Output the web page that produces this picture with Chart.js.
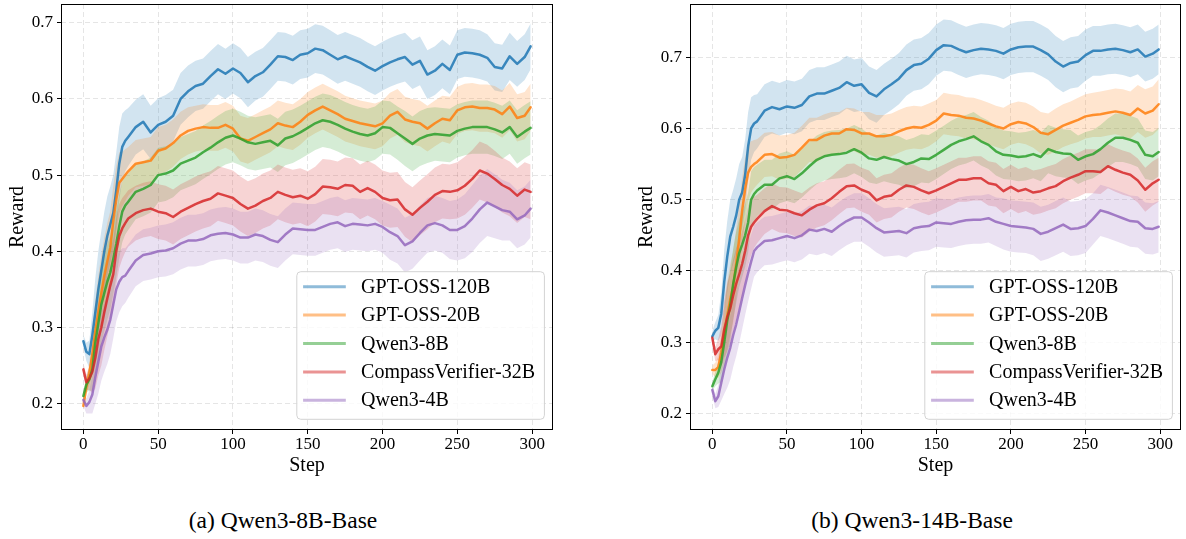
<!DOCTYPE html>
<html><head><meta charset="utf-8">
<script src="https://cdn.jsdelivr.net/npm/chart.js@4.4.1/dist/chart.umd.min.js"></script>
<style>
html,body{margin:0;padding:0;background:#fff;}
#wrap{position:relative;width:1186px;height:539px;overflow:hidden;background:#fff;}
canvas{position:absolute;top:0;}
.cap{position:absolute;font-family:'Liberation Serif','Times New Roman',serif;font-size:23.5px;line-height:1;white-space:nowrap;transform:translateX(-50%);color:#000;}
</style></head><body>
<div id="wrap">
<canvas id="c1" width="570" height="480" style="left:0px"></canvas>
<canvas id="c2" width="556" height="480" style="left:630px"></canvas>
<div class="cap" style="left:283px;top:509px">(a) Qwen3-8B-Base</div>
<div class="cap" style="left:912px;top:509px">(b) Qwen3-14B-Base</div>
</div>
<script>
// ---------- data ----------
const STEPS = [0,2,4,6,8,10,12,14,16,18,20,22,24,26,28,30,35,40,45,50,55,60,65,70,75,80,85,90,95,100,105,110,115,120,125,130,135,140,145,150,155,160,165,170,175,180,185,190,195,200,205,210,215,220,225,230,235,240,245,250,255,260,265,270,275,280,285,290,295,299];
const X_TICKS = [0,50,100,150,200,250,300];
const Y_TICKS_A = [0.2,0.3,0.4,0.5,0.6,0.7];
const Y_TICKS_B = [0.2,0.3,0.4,0.5,0.6,0.7];
const SERIES_NAMES = ['GPT-OSS-120B','GPT-OSS-20B','Qwen3-8B','CompassVerifier-32B','Qwen3-4B'];
const SERIES_RGB = ['31,119,180','255,127,14','44,160,44','214,39,40','148,103,189'];

// (a) Qwen3-8B-Base : mean reward
const A_GPT120 = [0.282,0.268,0.265,0.290,0.320,0.350,0.375,0.400,0.420,0.435,0.450,0.480,0.515,0.537,0.545,0.550,0.563,0.570,0.556,0.566,0.570,0.578,0.600,0.610,0.617,0.620,0.630,0.639,0.633,0.640,0.634,0.622,0.630,0.635,0.645,0.656,0.655,0.651,0.658,0.660,0.666,0.664,0.658,0.652,0.656,0.652,0.648,0.642,0.637,0.643,0.648,0.652,0.655,0.645,0.650,0.632,0.637,0.646,0.638,0.658,0.661,0.660,0.658,0.654,0.642,0.640,0.656,0.646,0.655,0.669];
const A_GPT20 = [0.197,0.222,0.240,0.265,0.295,0.320,0.345,0.368,0.387,0.405,0.440,0.468,0.490,0.495,0.500,0.505,0.515,0.517,0.519,0.532,0.535,0.542,0.552,0.558,0.561,0.563,0.562,0.562,0.566,0.561,0.548,0.545,0.550,0.555,0.560,0.568,0.565,0.563,0.570,0.579,0.585,0.590,0.585,0.580,0.574,0.571,0.568,0.566,0.564,0.568,0.578,0.583,0.573,0.570,0.568,0.561,0.568,0.574,0.572,0.585,0.589,0.590,0.588,0.588,0.586,0.580,0.590,0.575,0.578,0.589];
const A_Q8 = [0.210,0.225,0.232,0.245,0.280,0.305,0.330,0.345,0.360,0.372,0.390,0.410,0.433,0.452,0.460,0.465,0.478,0.482,0.487,0.500,0.502,0.506,0.515,0.519,0.523,0.530,0.536,0.543,0.549,0.552,0.548,0.543,0.541,0.543,0.545,0.539,0.548,0.551,0.556,0.562,0.568,0.572,0.570,0.566,0.561,0.557,0.554,0.552,0.555,0.563,0.562,0.555,0.548,0.541,0.548,0.552,0.554,0.553,0.552,0.558,0.561,0.563,0.563,0.563,0.560,0.556,0.563,0.550,0.557,0.562];
const A_CV32 = [0.245,0.228,0.233,0.242,0.260,0.285,0.300,0.320,0.338,0.355,0.370,0.400,0.420,0.430,0.437,0.443,0.450,0.454,0.456,0.452,0.450,0.445,0.452,0.457,0.462,0.466,0.469,0.476,0.473,0.470,0.462,0.456,0.460,0.466,0.470,0.478,0.474,0.471,0.473,0.469,0.475,0.485,0.484,0.482,0.487,0.486,0.478,0.483,0.478,0.470,0.467,0.468,0.455,0.448,0.457,0.465,0.474,0.479,0.478,0.480,0.486,0.495,0.506,0.502,0.495,0.487,0.482,0.473,0.481,0.478];
const A_Q4 = [0.205,0.197,0.202,0.212,0.235,0.255,0.275,0.287,0.297,0.310,0.330,0.350,0.360,0.366,0.368,0.374,0.388,0.395,0.397,0.400,0.401,0.404,0.410,0.414,0.414,0.416,0.421,0.423,0.424,0.422,0.418,0.418,0.422,0.420,0.415,0.412,0.422,0.430,0.429,0.428,0.428,0.432,0.436,0.438,0.433,0.436,0.435,0.434,0.436,0.432,0.425,0.420,0.408,0.413,0.424,0.434,0.437,0.434,0.428,0.428,0.433,0.443,0.455,0.464,0.459,0.454,0.452,0.442,0.447,0.456];

// (a) half-width of shaded band
const A_GPT120_SD = [0.008,0.012,0.018,0.030,0.045,0.050,0.052,0.052,0.052,0.050,0.050,0.050,0.048,0.044,0.040,0.038,0.036,0.036,0.035,0.035,0.035,0.034,0.034,0.034,0.033,0.033,0.033,0.033,0.033,0.033,0.033,0.033,0.032,0.032,0.032,0.032,0.032,0.032,0.032,0.032,0.032,0.032,0.032,0.032,0.032,0.032,0.032,0.032,0.032,0.032,0.032,0.032,0.032,0.032,0.032,0.032,0.032,0.032,0.032,0.032,0.032,0.032,0.032,0.031,0.031,0.031,0.031,0.030,0.030,0.030];
const A_GPT20_SD = [0.006,0.010,0.015,0.028,0.040,0.048,0.050,0.050,0.050,0.048,0.046,0.044,0.040,0.036,0.034,0.032,0.031,0.031,0.031,0.031,0.031,0.031,0.031,0.031,0.030,0.030,0.030,0.030,0.030,0.030,0.030,0.030,0.030,0.030,0.030,0.030,0.030,0.030,0.030,0.030,0.030,0.030,0.030,0.030,0.030,0.030,0.030,0.030,0.030,0.030,0.030,0.030,0.030,0.030,0.030,0.030,0.030,0.030,0.031,0.031,0.031,0.031,0.031,0.031,0.031,0.031,0.031,0.031,0.031,0.031];
const A_Q8_SD = [0.006,0.010,0.015,0.028,0.040,0.048,0.050,0.050,0.050,0.048,0.046,0.044,0.042,0.040,0.038,0.037,0.036,0.036,0.036,0.036,0.036,0.035,0.035,0.035,0.035,0.035,0.035,0.035,0.035,0.035,0.035,0.035,0.035,0.035,0.035,0.035,0.035,0.035,0.035,0.035,0.035,0.035,0.035,0.035,0.035,0.035,0.035,0.035,0.035,0.035,0.035,0.035,0.036,0.036,0.036,0.036,0.035,0.035,0.035,0.035,0.035,0.035,0.035,0.035,0.035,0.035,0.035,0.035,0.035,0.035];
const A_CV32_SD = [0.008,0.010,0.015,0.028,0.040,0.048,0.050,0.050,0.050,0.048,0.046,0.044,0.042,0.040,0.038,0.037,0.036,0.036,0.036,0.036,0.036,0.036,0.036,0.036,0.036,0.036,0.036,0.036,0.036,0.036,0.036,0.036,0.036,0.036,0.036,0.036,0.036,0.036,0.036,0.036,0.036,0.036,0.036,0.036,0.036,0.036,0.036,0.036,0.036,0.036,0.036,0.036,0.036,0.036,0.036,0.036,0.036,0.036,0.036,0.037,0.038,0.038,0.038,0.038,0.037,0.036,0.036,0.036,0.036,0.036];
const A_Q4_SD = [0.008,0.010,0.015,0.025,0.035,0.042,0.045,0.045,0.045,0.045,0.044,0.042,0.040,0.038,0.036,0.035,0.034,0.034,0.034,0.034,0.034,0.034,0.034,0.034,0.034,0.034,0.034,0.034,0.034,0.034,0.034,0.034,0.034,0.034,0.034,0.034,0.034,0.034,0.034,0.034,0.034,0.034,0.034,0.034,0.034,0.034,0.034,0.034,0.034,0.034,0.036,0.036,0.036,0.036,0.036,0.036,0.036,0.036,0.038,0.040,0.042,0.044,0.044,0.044,0.042,0.040,0.038,0.038,0.038,0.038];

// (b) Qwen3-14B-Base : mean reward
const B_GPT120 = [0.308,0.316,0.320,0.340,0.385,0.420,0.448,0.462,0.478,0.500,0.510,0.535,0.575,0.600,0.607,0.610,0.625,0.630,0.627,0.631,0.629,0.633,0.645,0.649,0.649,0.653,0.657,0.665,0.660,0.662,0.650,0.645,0.655,0.662,0.670,0.682,0.689,0.691,0.698,0.710,0.717,0.716,0.711,0.707,0.710,0.712,0.711,0.709,0.705,0.711,0.714,0.715,0.715,0.710,0.704,0.694,0.687,0.692,0.694,0.703,0.709,0.709,0.711,0.712,0.710,0.707,0.711,0.701,0.705,0.711];
const B_GPT20 = [0.261,0.261,0.265,0.285,0.310,0.337,0.360,0.378,0.410,0.445,0.485,0.515,0.538,0.546,0.550,0.553,0.563,0.564,0.559,0.560,0.563,0.573,0.584,0.584,0.590,0.593,0.593,0.599,0.598,0.593,0.593,0.589,0.589,0.591,0.596,0.600,0.602,0.601,0.605,0.611,0.621,0.619,0.618,0.615,0.614,0.611,0.607,0.603,0.600,0.606,0.609,0.607,0.602,0.594,0.592,0.598,0.604,0.608,0.612,0.617,0.619,0.620,0.622,0.624,0.622,0.619,0.628,0.621,0.625,0.634];
const B_Q8 = [0.238,0.248,0.257,0.272,0.300,0.330,0.352,0.382,0.405,0.425,0.437,0.450,0.468,0.500,0.508,0.513,0.521,0.521,0.530,0.533,0.529,0.537,0.547,0.556,0.561,0.563,0.564,0.566,0.571,0.566,0.558,0.556,0.560,0.557,0.555,0.550,0.553,0.558,0.557,0.563,0.570,0.577,0.582,0.585,0.589,0.582,0.577,0.568,0.563,0.562,0.560,0.561,0.564,0.560,0.571,0.567,0.565,0.564,0.556,0.561,0.564,0.571,0.580,0.587,0.587,0.584,0.580,0.563,0.561,0.567];
const B_CV32 = [0.306,0.283,0.290,0.294,0.318,0.335,0.347,0.366,0.382,0.395,0.410,0.428,0.450,0.462,0.468,0.473,0.484,0.491,0.486,0.485,0.481,0.478,0.486,0.492,0.495,0.502,0.511,0.519,0.520,0.514,0.510,0.499,0.504,0.506,0.514,0.520,0.518,0.513,0.509,0.513,0.518,0.523,0.528,0.528,0.530,0.530,0.523,0.521,0.512,0.518,0.512,0.515,0.510,0.512,0.516,0.519,0.526,0.531,0.535,0.540,0.540,0.539,0.547,0.542,0.538,0.535,0.527,0.514,0.523,0.528];
const B_Q4 = [0.233,0.217,0.224,0.243,0.262,0.278,0.292,0.310,0.325,0.343,0.362,0.380,0.397,0.413,0.428,0.433,0.442,0.443,0.446,0.449,0.446,0.450,0.458,0.456,0.459,0.455,0.463,0.470,0.475,0.475,0.468,0.460,0.454,0.455,0.456,0.453,0.460,0.462,0.463,0.468,0.467,0.466,0.469,0.471,0.472,0.472,0.474,0.469,0.466,0.463,0.462,0.461,0.459,0.452,0.455,0.460,0.465,0.459,0.460,0.463,0.473,0.485,0.482,0.478,0.474,0.470,0.469,0.460,0.459,0.462];

// (b) half-width of shaded band
const B_GPT120_SD = [0.008,0.012,0.018,0.030,0.045,0.050,0.052,0.052,0.052,0.050,0.050,0.050,0.048,0.044,0.040,0.038,0.037,0.037,0.037,0.037,0.037,0.037,0.037,0.037,0.037,0.037,0.037,0.037,0.037,0.037,0.037,0.037,0.036,0.036,0.036,0.036,0.036,0.036,0.036,0.036,0.036,0.036,0.036,0.036,0.036,0.036,0.036,0.036,0.036,0.036,0.036,0.036,0.036,0.036,0.036,0.036,0.036,0.036,0.036,0.036,0.035,0.035,0.035,0.035,0.035,0.035,0.035,0.035,0.035,0.035];
const B_GPT20_SD = [0.006,0.010,0.015,0.028,0.040,0.048,0.050,0.050,0.050,0.048,0.046,0.044,0.040,0.036,0.034,0.032,0.031,0.031,0.031,0.031,0.031,0.031,0.031,0.031,0.030,0.030,0.030,0.030,0.030,0.030,0.030,0.030,0.030,0.030,0.030,0.030,0.030,0.030,0.030,0.029,0.029,0.029,0.029,0.029,0.029,0.029,0.029,0.029,0.029,0.029,0.029,0.029,0.029,0.029,0.029,0.030,0.030,0.030,0.031,0.031,0.031,0.032,0.032,0.032,0.033,0.033,0.033,0.034,0.034,0.035];
const B_Q8_SD = [0.006,0.010,0.015,0.028,0.040,0.048,0.050,0.050,0.050,0.048,0.046,0.044,0.042,0.040,0.038,0.036,0.035,0.035,0.035,0.035,0.034,0.034,0.034,0.034,0.034,0.034,0.034,0.034,0.034,0.034,0.034,0.034,0.034,0.034,0.034,0.034,0.034,0.034,0.034,0.034,0.034,0.034,0.034,0.034,0.034,0.034,0.034,0.034,0.034,0.034,0.034,0.034,0.034,0.034,0.034,0.034,0.034,0.034,0.034,0.034,0.034,0.034,0.034,0.034,0.034,0.034,0.034,0.034,0.034,0.034];
const B_CV32_SD = [0.008,0.010,0.015,0.028,0.040,0.048,0.050,0.050,0.050,0.048,0.046,0.044,0.042,0.040,0.036,0.034,0.032,0.032,0.032,0.032,0.032,0.031,0.031,0.031,0.031,0.031,0.031,0.031,0.031,0.031,0.031,0.031,0.031,0.031,0.031,0.031,0.031,0.031,0.031,0.031,0.031,0.031,0.031,0.031,0.031,0.031,0.031,0.031,0.031,0.031,0.031,0.031,0.031,0.031,0.031,0.031,0.031,0.031,0.031,0.031,0.031,0.031,0.031,0.031,0.031,0.031,0.031,0.031,0.031,0.031];
const B_Q4_SD = [0.008,0.010,0.015,0.025,0.035,0.042,0.045,0.045,0.045,0.045,0.044,0.042,0.040,0.038,0.036,0.035,0.034,0.034,0.034,0.034,0.034,0.034,0.034,0.034,0.034,0.034,0.034,0.034,0.034,0.034,0.034,0.034,0.034,0.034,0.034,0.034,0.034,0.034,0.034,0.034,0.034,0.034,0.034,0.034,0.034,0.034,0.034,0.034,0.036,0.036,0.036,0.036,0.037,0.038,0.038,0.038,0.038,0.038,0.038,0.038,0.036,0.036,0.036,0.036,0.036,0.036,0.036,0.036,0.036,0.036];

// ---------- chart ----------
const FAMILY = "'Liberation Serif', 'Times New Roman', serif";
Chart.defaults.font.family = FAMILY;
Chart.defaults.color = '#000';

function pts(arr, sd, sign) {
  return STEPS.map((s, i) => ({x: s, y: arr[i] + (sd ? sign * sd[Math.min(i, sd.length - 1)] : 0)}));
}

const framePlugin = {
  id: 'frame',
  afterDatasetsDraw(chart) {
    const {ctx, chartArea: a} = chart;
    ctx.save();
    ctx.strokeStyle = '#000';
    ctx.lineWidth = 1;
    ctx.strokeRect(Math.round(a.left) + 0.5, Math.round(a.top) + 0.5, Math.round(a.right - a.left) - 1, Math.round(a.bottom - a.top) - 1);
    ctx.restore();
  }
};

const legendPlugin = {
  id: 'boxLegend',
  afterDraw(chart) {
    const {ctx, chartArea: a} = chart;
    const w = 247.6, h = 147.6, r = 4;
    const x0 = a.right - 8.6 - w, y0 = a.bottom - 10.7 - h;
    ctx.save();
    ctx.beginPath();
    ctx.moveTo(x0 + r, y0);
    ctx.arcTo(x0 + w, y0, x0 + w, y0 + h, r);
    ctx.arcTo(x0 + w, y0 + h, x0, y0 + h, r);
    ctx.arcTo(x0, y0 + h, x0, y0, r);
    ctx.arcTo(x0, y0, x0 + w, y0, r);
    ctx.closePath();
    ctx.fillStyle = 'rgba(255,255,255,0.8)';
    ctx.fill();
    ctx.strokeStyle = '#d3d3d3';
    ctx.lineWidth = 1;
    ctx.stroke();
    ctx.font = '20px ' + FAMILY;
    ctx.textBaseline = 'middle';
    ctx.textAlign = 'left';
    SERIES_NAMES.forEach((name, i) => {
      const y = y0 + 15.8 + i * 28.4;
      ctx.strokeStyle = 'rgba(' + SERIES_RGB[i] + ',0.5)';
      ctx.lineWidth = 3;
      ctx.beginPath();
      ctx.moveTo(x0 + 6.3, y - 0.8);
      ctx.lineTo(x0 + 49, y - 0.8);
      ctx.stroke();
      ctx.fillStyle = '#000';
      ctx.fillText(name, x0 + 64.3, y);
    });
    ctx.restore();
  }
};

function buildChart(id, means, sds, yMin, yMax, yTicks, yAxisW, padRight, yTitlePad) {
  const bands = [];
  const lines = [];
  for (let k = means.length - 1; k >= 0; k--) {
    const c = SERIES_RGB[k];
    bands.push({data: pts(means[k], sds[k], 1), borderWidth: 0, pointRadius: 0, fill: '+1', backgroundColor: 'rgba(' + c + ',0.2)', borderColor: 'rgba(0,0,0,0)'});
    bands.push({data: pts(means[k], sds[k], -1), borderWidth: 0, pointRadius: 0, fill: false, borderColor: 'rgba(0,0,0,0)'});
    lines.push({data: pts(means[k], null, 0), borderWidth: 2.5, pointRadius: 0, fill: false, borderColor: 'rgba(' + c + ',0.85)', borderJoinStyle: 'round', borderCapStyle: 'round', tension: 0});
  }
  const tickFont = {family: FAMILY, size: 17};
  const titleFont = {family: FAMILY, size: 20};
  return new Chart(document.getElementById(id), {
    type: 'line',
    data: {datasets: lines.concat(bands)},
    plugins: [framePlugin, legendPlugin],
    options: {
      responsive: false, animation: false, devicePixelRatio: 1,
      layout: {padding: {left: 0, right: padRight, top: 4, bottom: 0}},
      plugins: {legend: {display: false}, tooltip: {enabled: false}, filler: {drawTime: 'beforeDatasetsDraw', propagate: false}},
      scales: {
        x: {
          type: 'linear', min: -14.95, max: 313.95,
          afterBuildTicks: s => { s.ticks = X_TICKS.map(v => ({value: v})); },
          afterFit: s => { s.height = 50; s.paddingLeft = 0; s.paddingRight = 0; },
          ticks: {font: tickFont, color: '#000', padding: 0, maxRotation: 0, autoSkip: false, callback: v => String(v)},
          grid: {color: 'rgba(0,0,0,0.13)', lineWidth: 0.8, drawTicks: true, tickLength: 4, tickColor: '#000', tickWidth: 1, tickBorderDash: []},
          border: {display: false, dash: [5, 3]},
          title: {display: true, text: 'Step', font: titleFont, color: '#000', padding: {top: 0, bottom: 2}}
        },
        y: {
          type: 'linear', min: yMin, max: yMax,
          afterBuildTicks: s => { s.ticks = yTicks.map(v => ({value: v})); },
          afterFit: s => { s.width = yAxisW; s.paddingTop = 0; s.paddingBottom = 0; },
          ticks: {font: tickFont, color: '#000', padding: 4, callback: v => Number(v).toFixed(1)},
          grid: {color: 'rgba(0,0,0,0.13)', lineWidth: 0.8, drawTicks: true, tickLength: 4, tickColor: '#000', tickWidth: 1, tickBorderDash: []},
          border: {display: false, dash: [5, 3]},
          title: {display: true, text: 'Reward', font: titleFont, color: '#000', padding: {top: yTitlePad, bottom: 0}}
        }
      }
    }
  });
}

buildChart('c1',
  [A_GPT120, A_GPT20, A_Q8, A_CV32, A_Q4],
  [A_GPT120_SD, A_GPT20_SD, A_Q8_SD, A_CV32_SD, A_Q4_SD],
  0.1654, 0.7246, Y_TICKS_A, 61, 17, 6);
buildChart('c2',
  [B_GPT120, B_GPT20, B_Q8, B_CV32, B_Q4],
  [B_GPT120_SD, B_GPT20_SD, B_Q8_SD, B_CV32_SD, B_Q4_SD],
  0.1766, 0.7748, Y_TICKS_B, 60, 5, 5);
</script>
</body></html>
